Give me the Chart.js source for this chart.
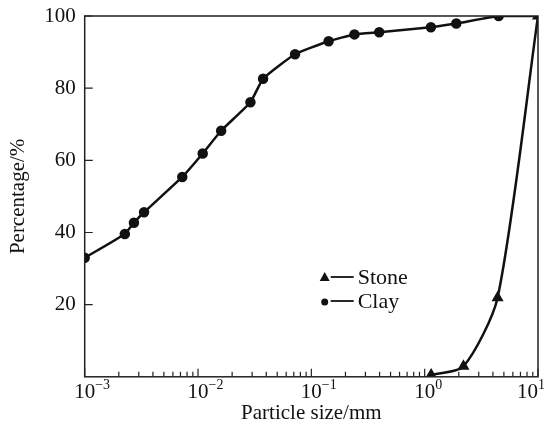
<!DOCTYPE html>
<html>
<head>
<meta charset="utf-8">
<script src="https://cdn.jsdelivr.net/npm/chart.js@4/dist/chart.umd.min.js"></script>
<style>
  html, body { margin: 0; padding: 0; background: #fff; }
  #wrap { width: 546px; height: 434px; }
</style>
</head>
<body>
<div id="wrap"><canvas id="psd"></canvas></div>
<script>
// particle size distribution
const claySize = [0.001, 0.00226, 0.00272, 0.00334, 0.00726, 0.0110, 0.0160, 0.0290, 0.0375, 0.0718, 0.142, 0.240, 0.397, 1.135, 1.90, 4.5, 10];
const clayPct  = [33.0, 39.6, 42.7, 45.6, 55.4, 61.9, 68.2, 76.1, 82.6, 89.4, 93.0, 94.9, 95.5, 96.9, 97.9, 100, 100];
const stoneSize = [1.14, 2.2, 4.4, 10];
const stonePct  = [0.5, 2.9, 21.9, 100];
const xDecades = [-3, -2, -1, 0, 1];
const yTicks = [20, 40, 60, 80, 100];

const FONT = '"Liberation Serif", "Times New Roman", serif';

const toXY = (xs, ys) => xs.map((x, i) => ({ x, y: ys[i] }));

// frame, inward ticks, superscript decade labels, in-plot legend
const decorations = {
  id: 'decorations',
  afterDraw(chart) {
    const { ctx, chartArea: a, scales } = chart;
    const xs = scales.x, ys = scales.y;
    ctx.save();
    ctx.strokeStyle = '#222';
    ctx.lineWidth = 1.5;
    ctx.strokeRect(a.left, a.top, a.right - a.left, a.bottom - a.top);

    // x ticks (inside, pointing up)
    ctx.lineWidth = 1.2;
    ctx.beginPath();
    for (let d = xDecades[0]; d < xDecades[xDecades.length - 1]; d++) {
      for (let m = 2; m <= 9; m++) {
        const px = xs.getPixelForValue(m * Math.pow(10, d));
        ctx.moveTo(px, a.bottom); ctx.lineTo(px, a.bottom - 5);
      }
    }
    xDecades.forEach(d => {
      const px = xs.getPixelForValue(Math.pow(10, d));
      ctx.moveTo(px, a.bottom); ctx.lineTo(px, a.bottom - 8);
    });
    // y ticks (inside, pointing right)
    yTicks.forEach(v => {
      const py = ys.getPixelForValue(v);
      ctx.moveTo(a.left, py); ctx.lineTo(a.left + 8, py);
    });
    ctx.stroke();

    // decade labels 10^k
    ctx.fillStyle = '#111';
    ctx.textBaseline = 'alphabetic';
    xDecades.forEach(d => {
      const px = xs.getPixelForValue(Math.pow(10, d));
      ctx.font = '21px ' + FONT;
      const base = '10';
      const exp = d < 0 ? '\u2212' + Math.abs(d) : String(d);
      const bw = ctx.measureText(base).width;
      ctx.font = '14px ' + FONT;
      const ew = ctx.measureText(exp).width;
      let x0 = px - bw / 2;
      if (x0 + bw + ew > chart.width - 1) x0 = chart.width - 1 - bw - ew;
      ctx.font = '21px ' + FONT;
      ctx.textAlign = 'left';
      ctx.fillText(base, x0, a.bottom + 21);
      ctx.font = '14px ' + FONT;
      ctx.fillText(exp, x0 + bw, a.bottom + 12);
    });

    // legend
    const items = [
      { label: chart.data.datasets[0].label, style: 'triangle', r: 4 },
      { label: chart.data.datasets[1].label, style: 'circle', r: 3.5 }
    ];
    items.forEach((it, i) => {
      const cy = a.top + 261 + i * 24;
      const mx = a.left + 240;
      ctx.fillStyle = '#111';
      ctx.beginPath();
      if (it.style === 'triangle') {
        ctx.moveTo(mx, cy - 5); ctx.lineTo(mx + 5, cy + 4); ctx.lineTo(mx - 5, cy + 4); ctx.closePath();
      } else {
        ctx.arc(mx, cy + 1, it.r, 0, Math.PI * 2);
      }
      ctx.fill();
      ctx.strokeStyle = '#111';
      ctx.lineWidth = 1.8;
      ctx.beginPath();
      ctx.moveTo(mx + 6, cy); ctx.lineTo(mx + 29, cy);
      ctx.stroke();
      ctx.font = '22px ' + FONT;
      ctx.textAlign = 'left';
      ctx.textBaseline = 'middle';
      ctx.fillText(it.label, mx + 33, cy + 1);
    });
    ctx.restore();
  }
};

new Chart(document.getElementById('psd'), {
  type: 'line',
  data: {
    datasets: [
      {
        label: 'Stone',
        data: toXY(stoneSize, stonePct),
        borderColor: '#111',
        backgroundColor: '#111',
        borderWidth: 2.5,
        pointStyle: 'triangle',
        pointRadius: 4.5,
        tension: 0.25
      },
      {
        label: 'Clay',
        data: toXY(claySize, clayPct),
        borderColor: '#111',
        backgroundColor: '#111',
        borderWidth: 2.5,
        pointStyle: 'circle',
        pointRadius: clayPct.map((_, i) => i === clayPct.length - 1 ? 0 : 4),
        tension: 0.15
      }
    ]
  },
  options: {
    responsive: true,
    maintainAspectRatio: false,
    animation: false,
    layout: { padding: { top: 16, right: 8, left: 6, bottom: 0 } },
    plugins: { legend: { display: false }, tooltip: { enabled: false } },
    scales: {
      x: {
        type: 'logarithmic',
        min: 0.001,
        max: 10,
        grid: { display: false },
        border: { display: false },
        ticks: { display: false },
        title: {
          display: true,
          text: 'Particle size/mm',
          color: '#111',
          font: { family: FONT, size: 21 },
          padding: { top: 16, bottom: 8 }
        }
      },
      y: {
        min: 0,
        max: 100,
        grid: { display: false, drawTicks: false },
        border: { display: false },
        ticks: {
          stepSize: 20,
          color: '#111',
          padding: 9,
          font: { family: FONT, size: 21, lineHeight: 0.6 },
          callback: v => (v === 0 ? '' : v)
        },
        title: {
          display: true,
          text: 'Percentage/%',
          color: '#111',
          font: { family: FONT, size: 21 },
          padding: { top: 0, bottom: 4 }
        }
      }
    }
  },
  plugins: [decorations]
});
</script>
</body>
</html>
